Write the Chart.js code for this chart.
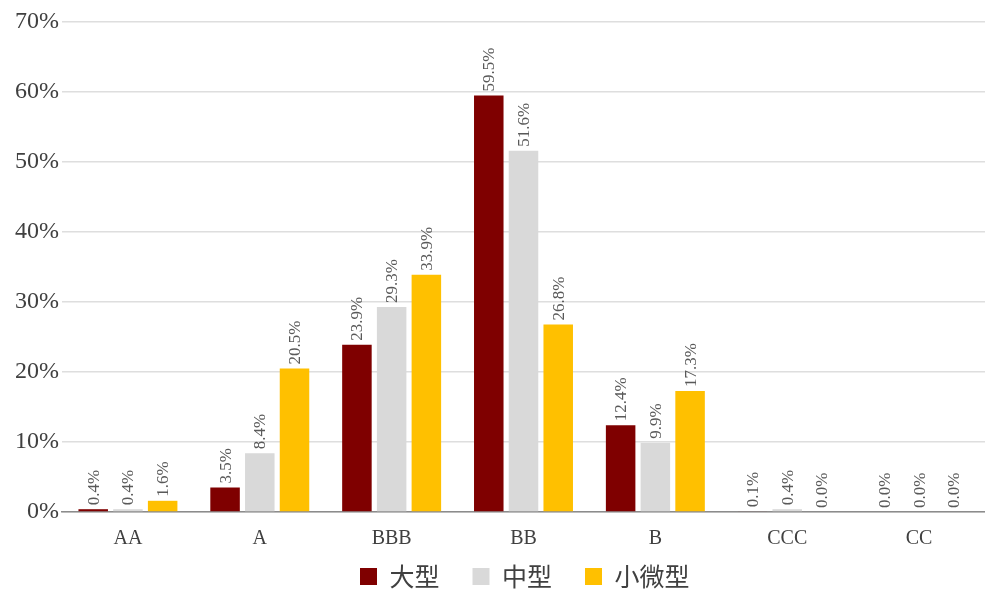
<!DOCTYPE html>
<html><head><meta charset="utf-8">
<script src="https://cdn.jsdelivr.net/npm/chart.js@4/dist/chart.umd.min.js"></script>
<style>html,body{margin:0;padding:0;background:#fff;}#wrap{width:985px;height:589px;}</style>
</head><body><div id="wrap"><canvas id="c" width="985" height="589"></canvas></div>
<script>
const categories = ['AA','A','BBB','BB','B','CCC','CC'];
const seriesNames = ['大型','中型','小微型'];
const large = [0.4,3.5,23.9,59.5,12.4,0.1,0.0];
const medium = [0.4,8.4,29.3,51.6,9.9,0.4,0.0];
const small = [1.6,20.5,33.9,26.8,17.3,0.0,0.0];
const yTicks = [0,10,20,30,40,50,60,70];
const colors = ['#7f0000','#d9d9d9','#ffc000'];
const serif = '"Liberation Serif","DejaVu Serif",serif';

const labelPlugin = {
  id:'barLabels',
  afterDatasetsDraw(chart){
    const ctx = chart.ctx;
    ctx.save();
    ctx.font = '17px ' + serif;
    ctx.fillStyle = '#595959';
    ctx.textAlign = 'left';
    ctx.textBaseline = 'middle';
    chart.data.datasets.forEach((ds,i)=>{
      const meta = chart.getDatasetMeta(i);
      meta.data.forEach((bar,j)=>{
        const v = ds.data[j];
        ctx.save();
        ctx.translate(bar.x + 1, bar.y - 4);
        ctx.rotate(-Math.PI/2);
        ctx.fillText(v.toFixed(1)+'%', 0, 0);
        ctx.restore();
      });
    });
    ctx.restore();
  }
};

const legendLayoutPlugin = {
  id:'legendLayout',
  afterInit(chart){
    const lg = chart.legend;
    if (lg && !lg._patched){
      const orig = lg.fit;
      lg.fit = function(){ orig.call(this); this.height = 37; };
      lg._patched = true;
    }
  },
  afterLayout(chart){
    const lg = chart.legend;
    if (!lg) return;
    const pad = lg.options.labels.padding;
    const w = lg.right - lg.left;
    lg.left = 360 - pad;
    lg.right = lg.left + w;
    lg.top = 577 - 13 - pad;
    lg.bottom = chart.height;
  }
};

const chart = new Chart(document.getElementById('c'), {
  type:'bar',
  data:{
    labels:categories,
    datasets:[
      {label:seriesNames[0],data:large,backgroundColor:colors[0]},
      {label:seriesNames[1],data:medium,backgroundColor:colors[1]},
      {label:seriesNames[2],data:small,backgroundColor:colors[2]}
    ]
  },
  options:{
    responsive:false,
    animation:false,
    layout:{padding:{top:22,right:0,left:0,bottom:0}},
    datasets:{bar:{categoryPercentage:0.79,barPercentage:0.85}},
    plugins:{
      legend:{position:'bottom',align:'start',labels:{boxWidth:17,boxHeight:17,padding:33,color:'#404040',font:{size:25,family:'"Noto Sans CJK SC",sans-serif'}}},
      tooltip:{enabled:false}
    },
    scales:{
      x:{
        grid:{display:false,drawTicks:false},
        border:{color:'#8c8c8c',width:1.5},
        afterFit(s){s.height = 40;},
        ticks:{color:'#404040',font:{size:20,family:serif},padding:15}
      },
      y:{
        min:0,max:70,
        afterBuildTicks(s){s.ticks = yTicks.map(v=>({value:v}));},
        afterFit(s){s.width = 62;},
        grid:{color:'#dedede',lineWidth:1.5,drawTicks:false},
        border:{display:false},
        ticks:{color:'#404040',font:{size:24,family:serif},padding:3,callback:v=>v+'%'}
      }
    }
  },
  plugins:[labelPlugin, legendLayoutPlugin]
});
chart.update();
</script></body></html>
